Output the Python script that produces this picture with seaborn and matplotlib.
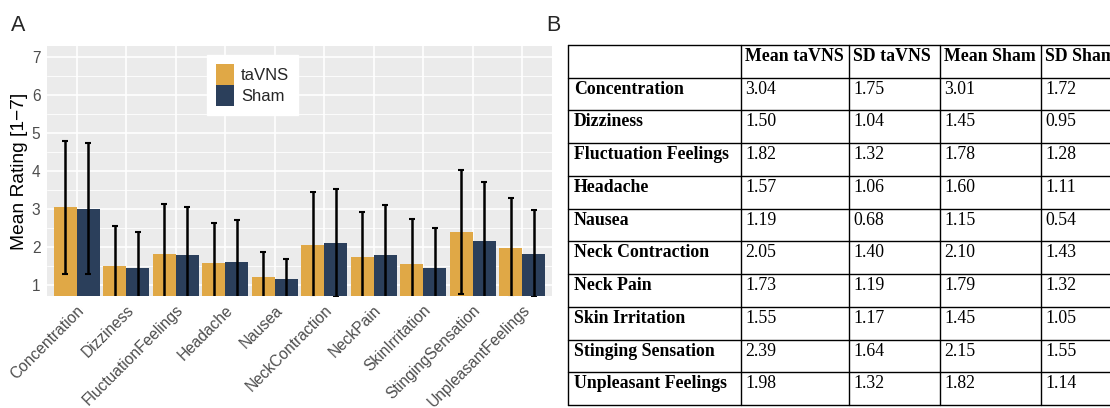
import numpy as np
import pandas as pd
import matplotlib
matplotlib.use('Agg')
import matplotlib.pyplot as plt
from matplotlib.patches import Patch
from matplotlib.ticker import MultipleLocator
import seaborn as sns

# data
symptoms = ['Concentration', 'Dizziness', 'FluctuationFeelings', 'Headache', 'Nausea',
            'NeckContraction', 'NeckPain', 'SkinIrritation', 'StingingSensation',
            'UnpleasantFeelings']
table_rows = ['Concentration', 'Dizziness', 'Fluctuation Feelings', 'Headache', 'Nausea',
              'Neck Contraction', 'Neck Pain', 'Skin Irritation', 'Stinging Sensation',
              'Unpleasant Feelings']
table_header = ['', 'Mean taVNS', 'SD taVNS', 'Mean Sham', 'SD Sham']
conditions = ['taVNS', 'Sham']
mean_tavns = [3.04, 1.50, 1.82, 1.57, 1.19, 2.05, 1.73, 1.55, 2.39, 1.98]
sd_tavns = [1.75, 1.04, 1.32, 1.06, 0.68, 1.40, 1.19, 1.17, 1.64, 1.32]
mean_sham = [3.01, 1.45, 1.78, 1.60, 1.15, 2.10, 1.79, 1.45, 2.15, 1.82]
sd_sham = [1.72, 0.95, 1.28, 1.11, 0.54, 1.43, 1.32, 1.05, 1.55, 1.14]

colors = ['#E0A846', '#2B3F5B']

df = pd.DataFrame({
    'symptom': symptoms * 2,
    'rating': mean_tavns + mean_sham,
    'condition': ['taVNS'] * len(symptoms) + ['Sham'] * len(symptoms),
})

sns.set_style('darkgrid', {'axes.facecolor': '#EBEBEB', 'grid.color': 'white'})
plt.rcParams['font.family'] = ['Liberation Sans', 'DejaVu Sans']

W, H = 1110, 408
fig = plt.figure(figsize=(W / 100, H / 100), dpi=100)
fig.patch.set_facecolor('white')

# panel A
ax = fig.add_axes([47 / W, (H - 296) / H, 505 / W, 250 / H])
sns.barplot(data=df, x='symptom', y='rating', hue='condition', order=symptoms,
            hue_order=conditions, palette=colors, width=0.93, saturation=1,
            errorbar=None, legend=False, linewidth=0, ax=ax)

for container, sds in zip(ax.containers, [sd_tavns, sd_sham]):
    xs = [b.get_x() + b.get_width() / 2 for b in container]
    ys = [b.get_height() for b in container]
    ax.errorbar(xs, ys, yerr=sds, fmt='none', ecolor='black', elinewidth=1.8,
                capsize=2.4, capthick=1.5, zorder=4)

ax.set_xlim(-0.6, len(symptoms) - 0.4)
ax.set_ylim(0.7, 7.3)
ax.yaxis.set_major_locator(MultipleLocator(1))
ax.yaxis.set_minor_locator(MultipleLocator(0.5))
ax.grid(which='major', color='white', linewidth=1.2)
ax.grid(which='minor', axis='y', color='white', linewidth=0.6)
ax.set_axisbelow(True)
for s in ax.spines.values():
    s.set_visible(False)
ax.set_xlabel('')
ax.set_ylabel('')
ax.tick_params(axis='both', which='major', length=3.2, width=1.0, color='#333333',
               labelcolor='#4D4D4D', labelsize=11.2, pad=1.5)
ax.tick_params(axis='y', which='minor', length=0)
ax.set_xticks(range(len(symptoms)))
ax.set_xticklabels(symptoms, rotation=45, ha='right', rotation_mode='anchor')

handles = [Patch(facecolor=c, edgecolor='none') for c in colors]
leg = ax.legend(handles, conditions, loc='upper left', bbox_to_anchor=((207 - 47) / 505, (296 - 55) / 250),
                frameon=True, fancybox=False, facecolor='white', edgecolor='white', framealpha=1,
                fontsize=12, handlelength=1.05, handleheight=1.55, labelspacing=0.0,
                handletextpad=0.45, borderpad=0.55, borderaxespad=0)

fig.text(20 / W, 1 - 171 / H, 'Mean Rating [1\u22127]', rotation=90, ha='center', va='center',
         fontsize=13.8, color='black')
fig.text(11 / W, 1 - 31 / H, 'A', fontsize=15.5, ha='left', va='baseline')
fig.text(546 / W, 1 - 31 / H, 'B', fontsize=15.5, ha='left', va='baseline')

# panel B: table
col_edges = [568, 741, 849, 940, 1041, 1140]
row_edges = np.linspace(45, 405, len(table_rows) + 2)
tax = fig.add_axes([568 / W, (H - 405) / H, (1140 - 568) / W, 360 / H])
tax.set_xlim(568, 1140)
tax.set_ylim(405, 45)
tax.axis('off')
for y in row_edges:
    tax.plot([col_edges[0], col_edges[-1]], [y, y], color='black', lw=1.0, clip_on=False)
for x in col_edges[:-1]:
    tax.plot([x, x], [row_edges[0], row_edges[-1]], color='black', lw=1.0, clip_on=False)

serif = ['Liberation Serif', 'DejaVu Serif']
cells = [table_header] + [
    [name, f'{a:.2f}', f'{b:.2f}', f'{c:.2f}', f'{d:.2f}']
    for name, a, b, c, d in zip(table_rows, mean_tavns, sd_tavns, mean_sham, sd_sham)
]
for i, row in enumerate(cells):
    for j, txt in enumerate(row):
        bold = (i == 0) or (j == 0)
        pad = 6 if j == 0 else 4
        tax.text(col_edges[j] + pad, row_edges[i] + 16, txt, ha='left', va='baseline',
                 fontsize=12.8, family=serif, fontweight='bold' if bold else 'normal',
                 color='black', clip_on=False)

fig.savefig('out.png', dpi=100)
